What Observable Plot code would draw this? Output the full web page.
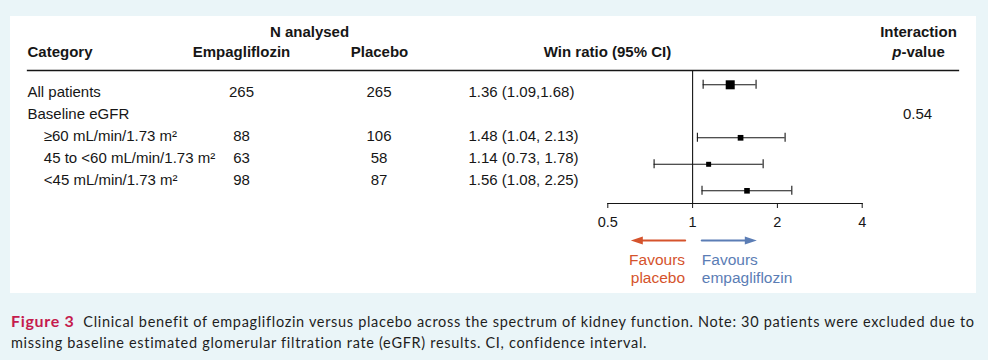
<!DOCTYPE html>
<html><head><meta charset="utf-8">
<script src="https://cdn.jsdelivr.net/npm/d3@7"></script>
<script src="https://cdn.jsdelivr.net/npm/@observablehq/plot@0.6"></script>
<style>
html,body{margin:0;padding:0;background:#eaf5f8;width:988px;height:360px;overflow:hidden;}
#panel{position:absolute;left:10px;top:16px;width:966px;height:277px;background:#fff;}
#panel svg{position:absolute;left:0;top:0;background:transparent;}
#caption{position:absolute;left:11px;top:310px;font-family:Lato,"Open Sans",sans-serif;font-size:14.5px;line-height:21px;color:#1e1e1e;white-space:nowrap;}
#caption b{color:#c51b4e;font-size:16px;}
</style></head><body>
<div id="panel"></div>
<div id="caption"><span id="l1"><b>Figure 3</b>&nbsp; Clinical benefit of empagliflozin versus placebo across the spectrum of kidney function. Note: 30 patients were excluded due to</span><br><span id="l2">missing baseline estimated glomerular filtration rate (eGFR) results. CI, confidence interval.</span></div>
<script>
// ---- data ----
const categories = ["All patients", "Baseline eGFR", "≥60 mL/min/1.73 m²", "45 to <60 mL/min/1.73 m²", "<45 mL/min/1.73 m²"];
const level = [0, 0, 1, 1, 1];
const nEmpa = [265, null, 88, 63, 98];
const nPlacebo = [265, null, 106, 58, 87];
const winRatio = [1.36, null, 1.48, 1.14, 1.56];
const ciLow = [1.09, null, 1.04, 0.73, 1.08];
const ciHigh = [1.68, null, 2.13, 1.78, 2.25];
const ciLabels = ["1.36 (1.09,1.68)", "", "1.48 (1.04, 2.13)", "1.14 (0.73, 1.78)", "1.56 (1.08, 2.25)"];
const pInteraction = [null, "0.54", null, null, null];
const xTicks = [0.5, 1, 2, 4];
const favourLabels = ["Favours\nplacebo", "Favours\nempagliflozin"];
const favourToward = [0.5, 2];

// ---- build ----
const W = 966, H = 277;
const font = "'Liberation Sans', Arial, Helvetica, sans-serif";
const ink = "#161616";
const RED = "#d5532c", BLUE = "#5b7db5";
const rows = categories.map((c, i) => ({category: c, level: level[i], nE: nEmpa[i], nP: nPlacebo[i],
  wr: winRatio[i], lo: ciLow[i], hi: ciHigh[i], ci: ciLabels[i], p: pInteraction[i]}));
const est = rows.filter(d => d.wr != null);
const favours = favourLabels.map((t, i) => ({label: t, toward: favourToward[i]}));

const baseStyle = {fontFamily: font, fontSize: "15px", color: ink, background: "transparent", overflow: "visible"};

const head = (txt, dx, dy, anchor, extra = {}) =>
  Plot.text([txt], {text: d => d, frameAnchor: "top-left", dx, dy, textAnchor: anchor, lineAnchor: "middle", fontWeight: "bold", ...extra});

const table = Plot.plot({
  width: W, height: H, marginTop: 54, marginLeft: 17, marginRight: 18, marginBottom: 0,
  style: baseStyle,
  y: {type: "point", domain: categories, range: [74.5, 165.5], padding: 0, axis: null},
  marks: [
    Plot.frame({anchor: "top", stroke: ink, strokeWidth: 1.3}),
    head("N analysed", 282, -38.7, "middle"),
    head("Interaction", 891, -38.7, "middle"),
    head("Category", 0, -18, "start"),
    head("Empagliflozin", 214, -18, "middle"),
    head("Placebo", 352, -18, "middle"),
    head("Win ratio (95% CI)", 580, -18, "middle"),
    head("p-value", 891, -18, "middle"),
    Plot.text(rows, {filter: d => d.level === 0, y: "category", text: "category", frameAnchor: "left", textAnchor: "start", lineAnchor: "middle"}),
    Plot.text(rows, {filter: d => d.level === 1, y: "category", text: "category", frameAnchor: "left", dx: 16.3, textAnchor: "start", lineAnchor: "middle"}),
    Plot.text(rows, {filter: d => d.nE != null, y: "category", text: "nE", frameAnchor: "left", dx: 214, textAnchor: "middle", lineAnchor: "middle"}),
    Plot.text(rows, {filter: d => d.nP != null, y: "category", text: "nP", frameAnchor: "left", dx: 351.5, textAnchor: "middle", lineAnchor: "middle"}),
    Plot.text(rows, {filter: d => d.ci, y: "category", text: "ci", frameAnchor: "left", dx: 441, textAnchor: "start", lineAnchor: "middle"}),
    Plot.text(rows, {filter: d => d.p != null, y: "category", text: "p", frameAnchor: "left", dx: 890, textAnchor: "middle", lineAnchor: "middle"})
  ]
});

const forest = Plot.plot({
  width: W, height: H, marginTop: 54, marginBottom: 90, marginLeft: 597.3, marginRight: 114.3,
  style: {...baseStyle, fontSize: "14.5px"},
  x: {type: "log", domain: [0.5, 4]},
  y: {type: "band", domain: categories, range: [63.8, 178.8], paddingInner: 0.6604, paddingOuter: 0, align: 0.5, round: false, axis: null},
  r: {type: "linear", domain: [0, 530], range: [2.14, 5.08]},
  marks: [
    Plot.frame({anchor: "bottom", stroke: ink, strokeWidth: 1.1}),
    Plot.ruleX([1], {stroke: ink, strokeWidth: 1.1}),
    Plot.ruleY(est, {y: "category", x1: "lo", x2: "hi", stroke: ink, strokeWidth: 1.1}),
    Plot.tickX(est, {y: "category", x: "lo", stroke: ink, strokeWidth: 1.1}),
    Plot.tickX(est, {y: "category", x: "hi", stroke: ink, strokeWidth: 1.1}),
    Plot.dot(est, {y: "category", x: "wr", r: d => d.nE + d.nP, symbol: "square", fill: "#000", stroke: "none"}),
    Plot.axisX({ticks: xTicks, tickFormat: d => String(d), tickSize: 5, tickPadding: 8, label: null, stroke: ink, fill: ink})
  ]
});

// narrow filled arrowhead, tip at the origin, pointing up
const head3 = {draw(ctx) { ctx.moveTo(0, 0); ctx.lineTo(-3.9, 12); ctx.lineTo(3.9, 12); ctx.closePath(); }};

const fav = Plot.plot({
  width: W, height: H, marginTop: 0, marginBottom: 0, marginLeft: 597.3, marginRight: 114.3,
  style: {...baseStyle, fontSize: "15.5px"},
  x: {type: "log", domain: [0.5, 4], axis: null},
  y: {type: "point", domain: ["arrow", "label"], range: [224, 236.5], padding: 0, axis: null},
  marks: [
    Plot.arrow(favours, {filter: d => d.toward < 1, x1: () => 1, x2: "toward", y1: () => "arrow", y2: () => "arrow",
      stroke: RED, strokeWidth: 2.2, headLength: 0, insetStart: 7.5, insetEnd: 30}),
    Plot.arrow(favours, {filter: d => d.toward > 1, x1: () => 1, x2: "toward", y1: () => "arrow", y2: () => "arrow",
      stroke: BLUE, strokeWidth: 2.2, headLength: 0, insetStart: 9.2, insetEnd: 27.6}),
    Plot.dot(favours, {filter: d => d.toward < 1, x: "toward", y: () => "arrow", symbol: head3, rotate: -90, dx: 23, fill: RED, stroke: "none"}),
    Plot.dot(favours, {filter: d => d.toward > 1, x: "toward", y: () => "arrow", symbol: head3, rotate: 90, dx: -20.6, fill: BLUE, stroke: "none"}),
    Plot.text(favours, {filter: d => d.toward < 1, x: () => 1, y: () => "label", text: "label", dx: -7.5,
      textAnchor: "end", lineAnchor: "top", lineHeight: 1.16, fill: RED}),
    Plot.text(favours, {filter: d => d.toward > 1, x: () => 1, y: () => "label", text: "label", dx: 9.2,
      textAnchor: "start", lineAnchor: "top", lineHeight: 1.16, fill: BLUE})
  ]
});

const panel = document.getElementById("panel");
panel.append(table, forest, fav);

// italic "p" in "p-value"
table.querySelectorAll("text").forEach(t => {
  if (t.textContent === "p-value") {
    t.textContent = "";
    const ns = "http://www.w3.org/2000/svg";
    const a = document.createElementNS(ns, "tspan"); a.setAttribute("font-style", "italic"); a.textContent = "p";
    const b = document.createElementNS(ns, "tspan"); b.textContent = "-value";
    t.append(a, b);
  }
});

// fit caption line 1 to reference width
const l1 = document.getElementById("l1");
const w1 = l1.getBoundingClientRect().width;
const target = 964;
const n1 = l1.textContent.length;
const ls = (target - w1) / n1;
document.getElementById("caption").style.letterSpacing = ls.toFixed(3) + "px";
</script>
</body></html>
